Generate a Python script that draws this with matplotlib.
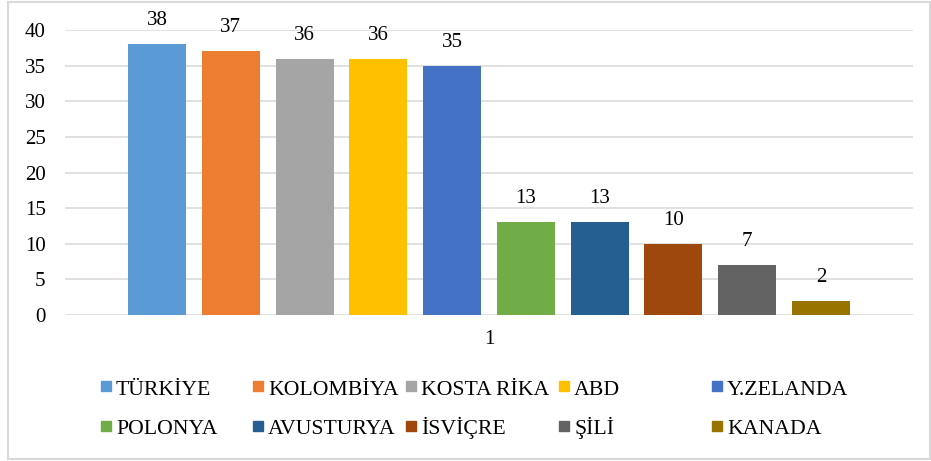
import matplotlib.pyplot as plt
from matplotlib.patches import Rectangle

plt.rcParams['font.family'] = ['Liberation Serif', 'DejaVu Serif']

countries = ['TÜRKİYE', 'KOLOMBİYA', 'KOSTA RİKA', 'ABD', 'Y.ZELANDA',
             'POLONYA', 'AVUSTURYA', 'İSVİÇRE', 'ŞİLİ', 'KANADA']
values = [38, 37, 36, 36, 35, 13, 13, 10, 7, 2]
colors = ['#5B9BD5', '#ED7D31', '#A5A5A5', '#FFC000', '#4472C4',
          '#70AD47', '#255E91', '#9E480E', '#636363', '#997300']
yticks = [0, 5, 10, 15, 20, 25, 30, 35, 40]

W, H = 931, 461
fig = plt.figure(figsize=(W / 100, H / 100), dpi=100)
ax = fig.add_axes([65 / W, 1 - 315 / H, (913 - 65) / W, (315 - 30) / H])

fs = 15
for i, (c, v, col) in enumerate(zip(countries, values, colors)):
    b = ax.bar(i, v, width=0.784, color=col, label=c, zorder=3)
    ax.bar_label(b, padding=10, fontsize=fs)

ax.set_xlim(-1.25, 10.25)
ax.set_ylim(0, 40)
ax.set_yticks(yticks)
ax.set_xticks([4.5], ['1'])
ax.tick_params(axis='y', length=0, pad=14, labelsize=fs)
ax.tick_params(axis='x', length=0, pad=11, labelsize=fs)
ax.grid(axis='y', color='#d9d9d9', lw=1.1, zorder=0)
for s in ax.spines.values():
    s.set_visible(False)

# legend drawn by hand: Excel uses equal-width columns
col_x = [101, 253, 406, 559, 712]
row_y = [381, 421]      # top of the square marker, px
base_y = [395, 434]     # text baseline, px
for k, (c, col) in enumerate(zip(countries, colors)):
    r, j = divmod(k, 5)
    fig.patches.append(Rectangle((col_x[j] / W, 1 - (row_y[r] + 10) / H), 10 / W, 10 / H,
                                 transform=fig.transFigure, color=col))
    fig.text((col_x[j] + 15) / W, 1 - base_y[r] / H, c, fontsize=15.7, va='baseline')

fig.patches.append(Rectangle((8 / W, 2 / H), (W - 9) / W, (H - 4) / H,
                             transform=fig.transFigure, fill=False,
                             edgecolor='#d9d9d9', lw=1.5))

fig.savefig('out.png', dpi=100)
